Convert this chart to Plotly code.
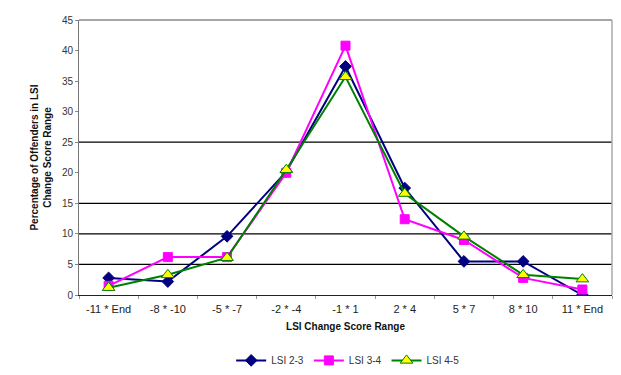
import plotly.graph_objects as go

# Category labels along the x axis
categories = ["-11 * End", "-8 * -10", "-5 * -7", "-2 * -4", "-1 * 1",
              "2 * 4", "5 * 7", "8 * 10", "11 * End"]

# Percentage of offenders per change-score range, by LSI group
lsi_2_3 = [2.8, 2.2, 9.6, 20.2, 37.4, 17.5, 5.5, 5.5, 0.0]
lsi_3_4 = [1.5, 6.2, 6.2, 20.0, 40.8, 12.4, 9.0, 2.8, 0.9]
lsi_4_5 = [1.2, 3.3, 6.1, 20.5, 35.7, 16.6, 9.6, 3.3, 2.6]

series_names = ["LSI 2-3", "LSI 3-4", "LSI 4-5"]

y_ticks = [0, 5, 10, 15, 20, 25, 30, 35, 40, 45]
grid_levels = [5, 10, 15, 25]

FONT = "Liberation Sans, Arial, sans-serif"

fig = go.Figure()

fig.add_trace(go.Scatter(
    x=categories, y=lsi_2_3, name=series_names[0], mode="lines+markers",
    line=dict(color="#000080", width=2),
    marker=dict(symbol="diamond", size=9, color="#000080",
                line=dict(color="#000080", width=1)),
))
fig.add_trace(go.Scatter(
    x=categories, y=lsi_3_4, name=series_names[1], mode="lines+markers",
    line=dict(color="#FF00FF", width=2),
    marker=dict(symbol="square", size=9, color="#FF00FF",
                line=dict(color="#FF00FF", width=1)),
))
fig.add_trace(go.Scatter(
    x=categories, y=lsi_4_5, name=series_names[2], mode="lines+markers",
    line=dict(color="#008000", width=2),
    marker=dict(symbol="triangle-up", size=11, color="#FFFF00",
                line=dict(color="#008000", width=1)),
))

# Horizontal reference lines at selected levels
for lvl in grid_levels:
    fig.add_shape(type="line", xref="x domain", yref="y",
                  x0=0, x1=1, y0=lvl, y1=lvl,
                  line=dict(color="black", width=1.3), layer="below")

# Grey frame on the top and right sides
fig.add_shape(type="line", xref="x domain", yref="y domain",
              x0=0, x1=1, y0=1, y1=1, line=dict(color="#888888", width=1.5))
fig.add_shape(type="line", xref="x domain", yref="y domain",
              x0=1, x1=1, y0=0, y1=1, line=dict(color="#AAAAAA", width=1.5))

fig.update_layout(
    width=621, height=375,
    margin=dict(l=79, r=9, t=20, b=80, autoexpand=False),
    paper_bgcolor="white", plot_bgcolor="white",
    font=dict(family=FONT, size=10, color="#222222"),
    showlegend=True,
    legend=dict(orientation="h", x=0.505, xanchor="center", y=-0.185, yanchor="top",
                font=dict(family=FONT, size=10, color="#333333"),
                itemwidth=30, tracegroupgap=0),
    xaxis=dict(
        type="category", tickson="boundaries", ticks="outside", ticklen=3,
        tickcolor="#999999", showgrid=False, zeroline=False, automargin=False,
        showline=True, linecolor="#222222", linewidth=1.3,
        ticklabelstandoff=4,
        tickfont=dict(family=FONT, size=11, color="#222222"),
        title=dict(text="<b>LSI Change Score Range</b>", standoff=8,
                   font=dict(family=FONT, size=10, color="#111111")),
        range=[-0.5, 8.5],
    ),
    yaxis=dict(
        range=[0, 45], tickvals=y_ticks, ticks="outside", ticklen=3,
        tickcolor="#888888", showgrid=False, zeroline=False, automargin=False,
        showline=True, linecolor="#777777", linewidth=1,
        tickfont=dict(family=FONT, size=10, color="#333333"),
        title=dict(text="<b>Percentage of Offenders in LSI<br>Change Score Range</b>",
                   standoff=8, font=dict(family=FONT, size=10, color="#111111")),
    ),
)

fig.write_html("out.html")
